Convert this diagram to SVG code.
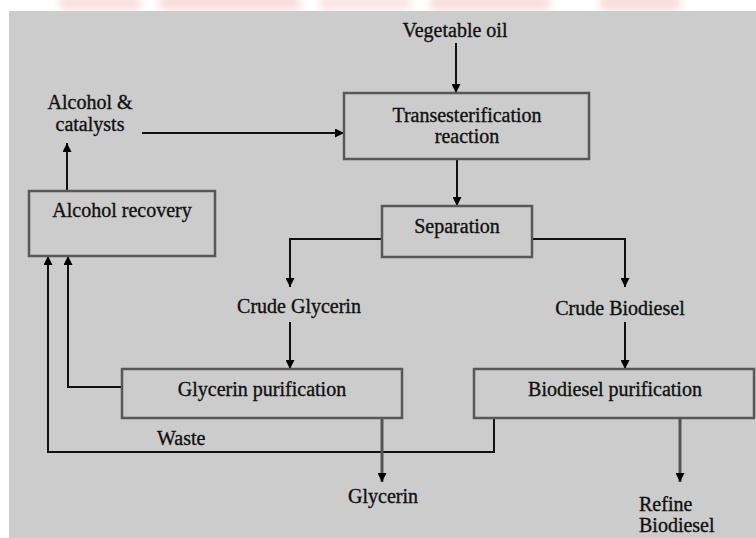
<svg xmlns="http://www.w3.org/2000/svg" width="756" height="538" viewBox="0 0 756 538">
  <style>
    text { font-family: "Liberation Serif", "Times New Roman", serif; font-size: 20px; fill: #111; text-anchor: middle; stroke: #111; stroke-width: 0.35px; }
    .box { fill: none; stroke: #585858; stroke-width: 2.5; }
    .ln { fill: none; stroke: #111; stroke-width: 2; }
    .out { fill: none; stroke: #555; stroke-width: 3; }
  </style>
  <defs>
    <marker id="ah" viewBox="0 0 10 10" refX="10" refY="5" markerWidth="9" markerHeight="9" markerUnits="userSpaceOnUse" orient="auto">
      <path d="M0,0 L10,5 L0,10 z" fill="#000"/>
    </marker>
    <filter id="blur" filterUnits="userSpaceOnUse" x="0" y="-20" width="756" height="40">
      <feGaussianBlur stdDeviation="4"/>
    </filter>
  </defs>
  <rect x="0" y="0" width="756" height="538" fill="#ffffff"/>
  <g filter="url(#blur)" opacity="0.35">
    <rect x="60" y="-4" width="80" height="14" fill="#f0a0a0"/>
    <rect x="160" y="-4" width="140" height="14" fill="#ee9898"/>
    <rect x="320" y="-4" width="90" height="14" fill="#f2b0b0"/>
    <rect x="430" y="-4" width="120" height="14" fill="#ee9c9c"/>
    <rect x="600" y="-4" width="80" height="14" fill="#ec9898"/>
  </g>
  <rect x="9" y="11" width="747" height="527" fill="#cccccc"/>

  <g id="connectors">
    <line class="ln" x1="456" y1="43" x2="456" y2="93" marker-end="url(#ah)"/>
    <line class="ln" x1="142" y1="133" x2="344" y2="133" marker-end="url(#ah)"/>
    <line class="ln" x1="457" y1="159" x2="457" y2="206" marker-end="url(#ah)"/>
    <polyline class="ln" points="382,239 290,239 290,287" marker-end="url(#ah)"/>
    <polyline class="ln" points="532,239 625,239 625,287" marker-end="url(#ah)"/>
    <line class="ln" x1="290" y1="322" x2="290" y2="369" marker-end="url(#ah)"/>
    <line class="ln" x1="625" y1="322" x2="625" y2="369" marker-end="url(#ah)"/>
    <polyline class="ln" points="122,387 68,387 68,256" marker-end="url(#ah)"/>
    <polyline class="ln" points="494,418 494,452 48,452 48,256" marker-end="url(#ah)"/>
    <line class="ln" x1="67" y1="191" x2="67" y2="143" marker-end="url(#ah)"/>
    <line class="out" x1="382" y1="418" x2="382" y2="482" marker-end="url(#ah)"/>
    <line class="out" x1="680" y1="418" x2="680" y2="482" marker-end="url(#ah)"/>
  </g>

  <g id="vegetable-oil"><text x="455" y="37">Vegetable oil</text></g>
  <g id="alcohol-catalysts">
    <text x="90" y="109">Alcohol &amp;</text>
    <text x="90" y="131">catalysts</text>
  </g>
  <g id="transesterification">
    <rect class="box" x="344" y="93" width="245" height="66"/>
    <text x="467" y="122">Transesterification</text>
    <text x="467" y="143">reaction</text>
  </g>
  <g id="alcohol-recovery">
    <rect class="box" x="29" y="191" width="186" height="65"/>
    <text x="122" y="217">Alcohol recovery</text>
  </g>
  <g id="separation">
    <rect class="box" x="382" y="206" width="150" height="51"/>
    <text x="457" y="233">Separation</text>
  </g>
  <g id="crude-glycerin"><text x="299" y="313">Crude Glycerin</text></g>
  <g id="crude-biodiesel"><text x="620" y="315">Crude Biodiesel</text></g>
  <g id="glycerin-purification">
    <rect class="box" x="122" y="369" width="280" height="49"/>
    <text x="262" y="396">Glycerin purification</text>
  </g>
  <g id="biodiesel-purification">
    <rect class="box" x="474" y="369" width="280" height="49"/>
    <text x="615" y="396">Biodiesel purification</text>
  </g>
  <g id="waste"><text x="157" y="445" style="text-anchor:start">Waste</text></g>
  <g id="glycerin"><text x="383" y="503">Glycerin</text></g>
  <g id="refine-biodiesel">
    <text x="639" y="511" style="text-anchor:start">Refine</text>
    <text x="639" y="532" style="text-anchor:start">Biodiesel</text>
  </g>
</svg>
